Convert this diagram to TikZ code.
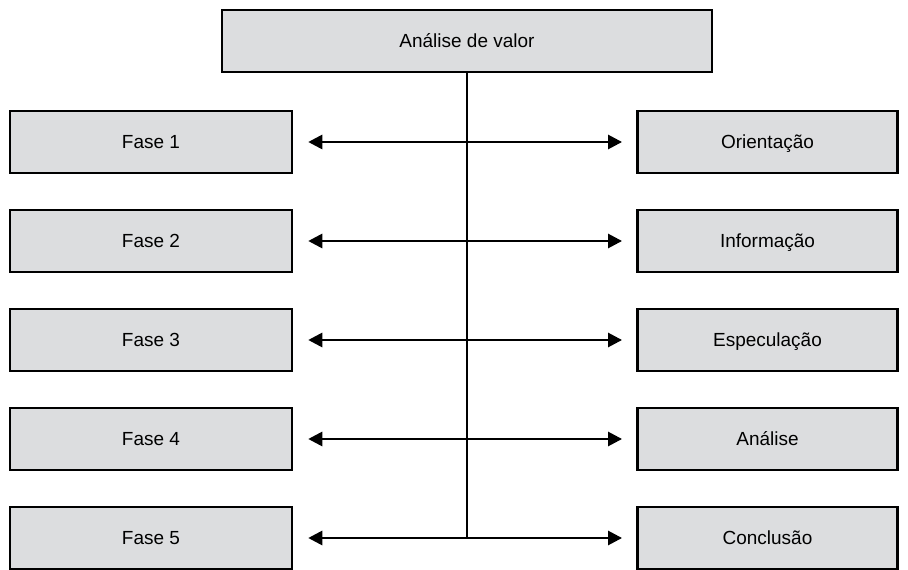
\documentclass[tikz,border=0pt]{standalone}
\usepackage{fontspec}
\setmainfont{Liberation Sans}
\usetikzlibrary{arrows.meta,calc}

\definecolor{boxgray}{RGB}{220,221,223}

\tikzset{
  caixa/.style={draw=black, fill=boxgray, line width=2pt, inner sep=0pt,
    minimum height=1.55cm, text height=9.7pt, text depth=0pt,
    font=\fontsize{13.5}{16}\selectfont},
  fase/.style={caixa, minimum width=7.05cm},
  etapa/.style={caixa, minimum width=6.5cm},
  seta/.style={{Triangle[length=10pt,width=10pt]}-{Triangle[length=10pt,width=10pt]},
    line width=1.9pt, shorten <=0.37cm, shorten >=0.35cm}
}

\begin{document}
\begin{tikzpicture}[x=0.025cm, y=-0.025cm]
  \useasboundingbox (0,0) rectangle (908,570);

  \node[caixa, minimum width=12.25cm] (topo) at (467,41) {Análise de valor};

  \foreach \i/\nome in {1/Orientação,2/Informação,3/Especulação,4/Análise,5/Conclusão}{
    \node[fase]  (f\i) at (151,{142+99*(\i-1)}) {Fase \i};
    \node[etapa] (e\i) at (767.5,{142+99*(\i-1)}) {\nome};
    \draw[seta] (f\i.east) -- (e\i.west);
  }

  % linha central
  \draw[line width=1.4pt] (topo.south) -- (topo.south |- f5.east);
\end{tikzpicture}
\end{document}
